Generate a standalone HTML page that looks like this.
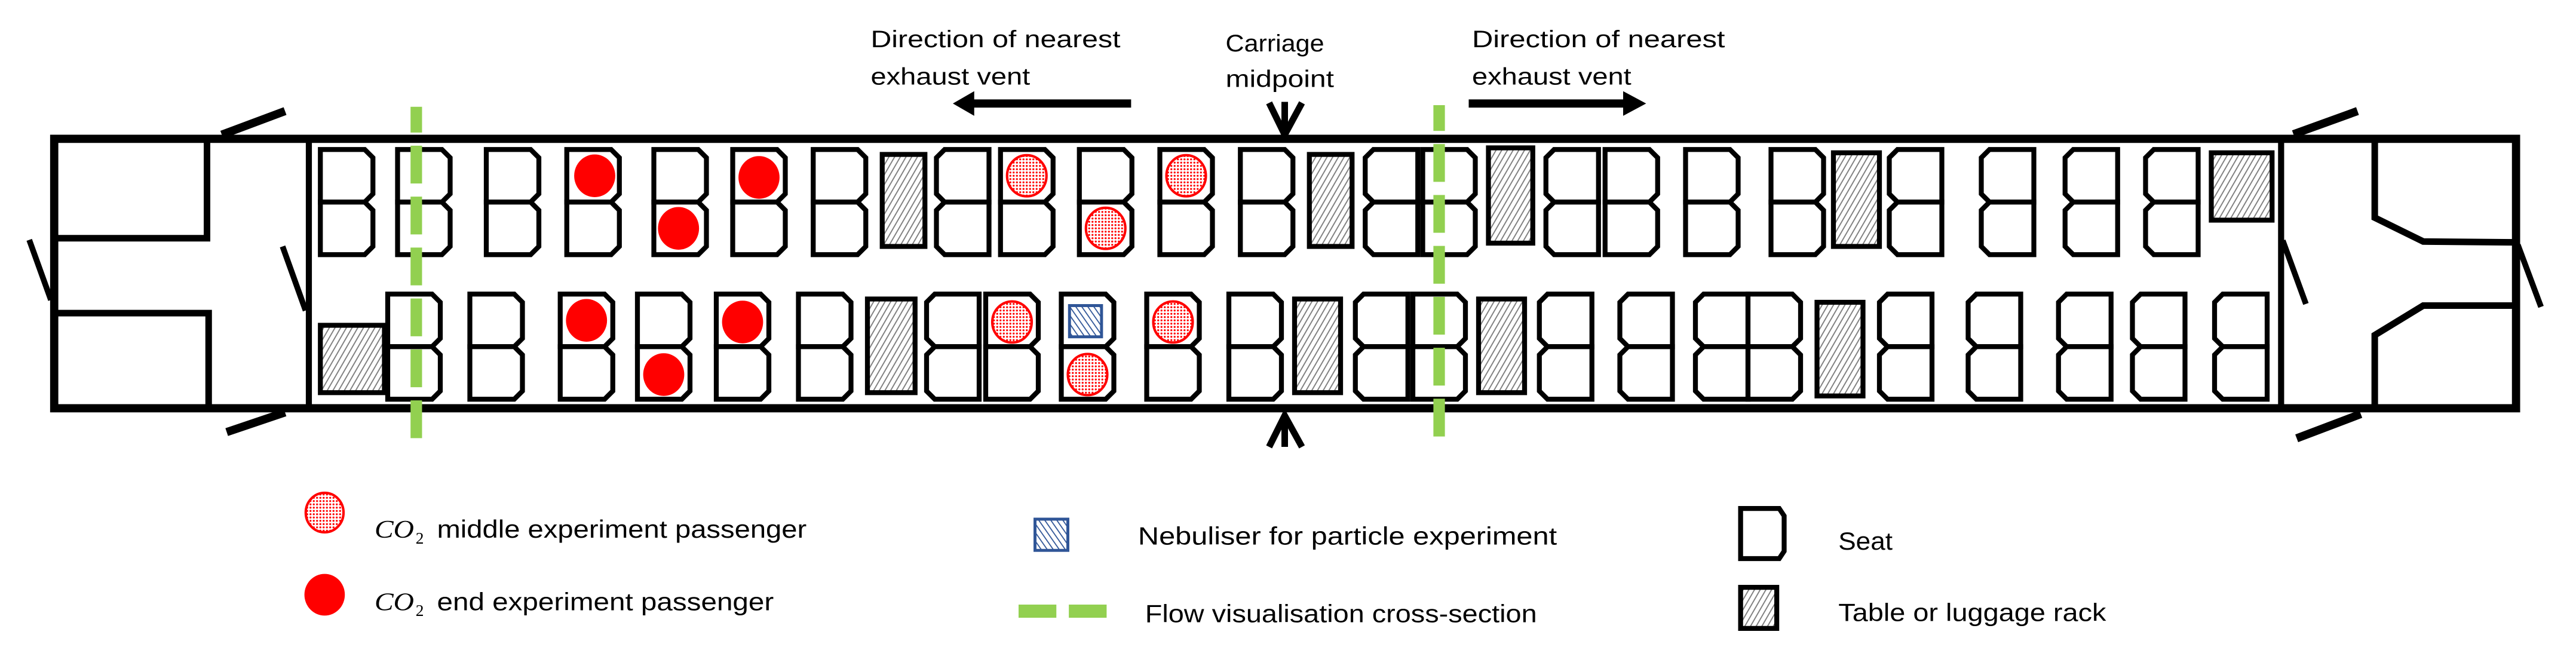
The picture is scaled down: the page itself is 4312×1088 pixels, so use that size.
<!DOCTYPE html>
<html><head><meta charset="utf-8"><style>html,body{margin:0;padding:0;background:#fff}svg{display:block}</style></head>
<body>
<svg width="4312" height="1088" viewBox="0 0 1568 395.64" preserveAspectRatio="none" xmlns="http://www.w3.org/2000/svg">
<defs>
<pattern id="hatch" patternUnits="userSpaceOnUse" width="3" height="3" patternTransform="rotate(30)">
<rect width="3" height="3" fill="#fff"/><line x1="0" y1="0" x2="0" y2="3" stroke="#7f7f7f" stroke-width="1.4"/></pattern>
<pattern id="bhatch" patternUnits="userSpaceOnUse" width="3" height="3" patternTransform="rotate(-35)">
<rect width="3" height="3" fill="#fff"/><line x1="0" y1="0" x2="0" y2="3" stroke="#2f5597" stroke-width="1.3"/></pattern>
<pattern id="dots" patternUnits="userSpaceOnUse" width="2" height="2">
<rect width="2" height="2" fill="#fff"/><circle cx="1" cy="1" r="0.6" fill="#f00"/></pattern>
<g id="B" fill="#fff" stroke="#000" stroke-width="3">
<path d="M0,0H27L32,5V27L27,32H0Z"/><path d="M0,32H27L32,37V59L27,64H0Z"/></g>
<g id="R" fill="#fff" stroke="#000" stroke-width="3">
<path d="M32,0H5L0,5V27L5,32H32Z"/><path d="M32,32H5L0,37V59L5,64H32Z"/></g>
</defs>

<!-- carriage outline -->
<g stroke="#000" fill="none" stroke-linecap="butt">
<rect x="33" y="84.5" width="1498.5" height="164" stroke-width="5"/>
<line x1="188" y1="84" x2="188" y2="249" stroke-width="3.7"/>
<line x1="1388.5" y1="84" x2="1388.5" y2="249" stroke-width="3.7"/>
<!-- left compartments -->
<polyline points="33,145 126,145 126,84" stroke-width="4"/>
<polyline points="33,190.6 127,190.6 127,249" stroke-width="4"/>
<!-- right compartments -->
<polyline points="1445.5,84 1445.5,132.5 1475,147 1531,147.5" stroke-width="4"/>
<polyline points="1531,186 1475,186 1445.5,204 1445.5,249" stroke-width="4"/>
<!-- doors -->
<line x1="135" y1="82" x2="173.5" y2="67.6" stroke-width="5"/>
<line x1="138" y1="263" x2="173.5" y2="251" stroke-width="5"/>
<line x1="17.8" y1="146" x2="31" y2="182.6" stroke-width="3.5"/>
<line x1="172" y1="150" x2="186" y2="189" stroke-width="3.5"/>
<line x1="1396" y1="81.7" x2="1435" y2="67.6" stroke-width="5"/>
<line x1="1398" y1="266.8" x2="1437" y2="252" stroke-width="5"/>
<line x1="1389.5" y1="146.4" x2="1403.6" y2="185" stroke-width="3.5"/>
<line x1="1532.6" y1="149" x2="1546.7" y2="186.8" stroke-width="3.5"/>
</g>

<!-- top row seats -->
<g>
<use href="#B" x="195" y="91"/><use href="#B" x="242" y="91"/><use href="#B" x="296" y="91"/>
<use href="#B" x="345" y="91"/><use href="#B" x="398" y="91"/><use href="#B" x="446" y="91"/>
<use href="#B" x="495" y="91"/><use href="#R" x="570" y="91"/><use href="#B" x="609" y="91"/>
<use href="#B" x="657" y="91"/><use href="#B" x="706" y="91"/><use href="#B" x="755" y="91"/>
<use href="#R" x="831" y="91"/><use href="#B" x="866" y="91"/><use href="#R" x="941" y="91"/>
<use href="#B" x="977" y="91"/><use href="#B" x="1026" y="91"/><use href="#B" x="1078" y="91"/>
<use href="#R" x="1150" y="91"/><use href="#R" x="1206" y="91"/><use href="#R" x="1257" y="91"/>
<use href="#R" x="1306" y="91"/>
</g>
<!-- bottom row seats -->
<g>
<use href="#B" x="236" y="179"/><use href="#B" x="286" y="179"/><use href="#B" x="341" y="179"/>
<use href="#B" x="388" y="179"/><use href="#B" x="436" y="179"/><use href="#B" x="486" y="179"/>
<use href="#R" x="564" y="179"/><use href="#B" x="600" y="179"/><use href="#B" x="646" y="179"/>
<use href="#B" x="698" y="179"/><use href="#B" x="748" y="179"/><use href="#R" x="825" y="179"/>
<use href="#B" x="860" y="179"/><use href="#R" x="937" y="179"/><use href="#R" x="986" y="179"/>
<use href="#R" x="1032" y="179"/><use href="#B" x="1064" y="179"/><use href="#R" x="1144" y="179"/>
<use href="#R" x="1198" y="179"/><use href="#R" x="1253" y="179"/><use href="#R" x="1298" y="179"/>
<use href="#R" x="1348" y="179"/>
</g>
<!-- tables -->
<g fill="url(#hatch)" stroke="#000" stroke-width="3">
<rect x="537" y="94" width="26" height="56"/><rect x="797" y="94" width="26" height="56"/>
<rect x="906" y="90" width="27" height="58"/><rect x="1116" y="93" width="28" height="57"/>
<rect x="1346" y="93" width="37" height="41"/>
<rect x="195" y="198" width="39" height="41"/><rect x="528" y="182" width="29" height="57"/>
<rect x="788" y="182" width="28" height="57"/><rect x="900" y="182" width="28" height="57"/>
<rect x="1106" y="184" width="28" height="57"/>
</g>
<!-- passengers -->
<g fill="#f00">
<ellipse cx="362" cy="107" rx="12.5" ry="13"/><ellipse cx="413" cy="139" rx="12.5" ry="13"/>
<ellipse cx="462" cy="108" rx="12.5" ry="13"/>
<ellipse cx="357" cy="195" rx="12.5" ry="13"/><ellipse cx="404" cy="228" rx="12.5" ry="13"/>
<ellipse cx="452" cy="196" rx="12.5" ry="13"/>
</g>
<g fill="url(#dots)" stroke="#f00" stroke-width="1.5">
<ellipse cx="625" cy="107" rx="12" ry="12.5"/><ellipse cx="673" cy="139" rx="12" ry="12.5"/>
<ellipse cx="722" cy="107" rx="12" ry="12.5"/>
<ellipse cx="616" cy="196" rx="12" ry="12.5"/><ellipse cx="662" cy="228" rx="12" ry="12.5"/>
<ellipse cx="714" cy="196" rx="12" ry="12.5"/>
</g>
<rect x="651" y="186" width="19.5" height="19" fill="url(#bhatch)" stroke="#2f5597" stroke-width="1.8"/>

<!-- green cross-sections -->
<g stroke="#92d050" stroke-width="7" stroke-dasharray="23 8" stroke-dashoffset="7.3">
<line x1="253.4" y1="65" x2="253.4" y2="267"/>
<line x1="876" y1="64" x2="876" y2="266"/>
</g>

<!-- arrows -->
<g fill="#000" stroke="none">
<rect x="592" y="60.5" width="96.5" height="5"/>
<polygon points="580,63 593,55.5 593,70.5"/>
<rect x="894" y="60.5" width="95" height="5"/>
<polygon points="1002,63 988,55.5 988,70.5"/>
</g>
<g stroke="#000" stroke-width="4" fill="none" stroke-linejoin="miter">
<line x1="782" y1="62" x2="782" y2="80"/>
<polyline points="772.5,62.6 782,82 792.5,62.6"/>
<line x1="782" y1="254" x2="782" y2="272"/>
<polyline points="772.5,272 782,253 792.5,272"/>
</g>

<!-- headings -->
<g font-family="Liberation Sans, sans-serif" font-size="14.5" fill="#000">
<text x="530" y="28.7" textLength="152" lengthAdjust="spacingAndGlyphs">Direction of nearest</text>
<text x="530" y="51.4" textLength="97" lengthAdjust="spacingAndGlyphs">exhaust vent</text>
<text x="896" y="28.7" textLength="154" lengthAdjust="spacingAndGlyphs">Direction of nearest</text>
<text x="896" y="51.4" textLength="97" lengthAdjust="spacingAndGlyphs">exhaust vent</text>
<text x="746" y="31.3" textLength="60" lengthAdjust="spacingAndGlyphs">Carriage</text>
<text x="746" y="53" textLength="66" lengthAdjust="spacingAndGlyphs">midpoint</text>
</g>

<!-- legend -->
<ellipse cx="197.6" cy="312" rx="11.5" ry="12" fill="url(#dots)" stroke="#f00" stroke-width="1.5"/>
<ellipse cx="197.6" cy="362" rx="12.3" ry="12.7" fill="#f00"/>
<rect x="630" y="316" width="20" height="19" fill="url(#bhatch)" stroke="#2f5597" stroke-width="1.8"/>
<rect x="620" y="368" width="23" height="8" fill="#92d050"/>
<rect x="650.6" y="368" width="23" height="8" fill="#92d050"/>
<path d="M1059.5,309.5H1083L1086,314V335.5L1083,340H1059.5Z" fill="#fff" stroke="#000" stroke-width="3"/>
<rect x="1059.5" y="357.5" width="22" height="25" fill="url(#hatch)" stroke="#000" stroke-width="3"/>
<g font-family="Liberation Serif, serif" font-style="italic" font-size="15.5" fill="#000">
<text x="228" y="327.3" textLength="24" lengthAdjust="spacingAndGlyphs">CO</text>
<text x="228" y="371.5" textLength="24" lengthAdjust="spacingAndGlyphs">CO</text>
</g>
<g font-family="Liberation Serif, serif" font-size="10" fill="#000">
<text x="253" y="331">2</text>
<text x="253" y="375">2</text>
</g>
<g font-family="Liberation Sans, sans-serif" font-size="15" fill="#000">
<text x="266" y="327.3" textLength="225" lengthAdjust="spacingAndGlyphs">middle experiment passenger</text>
<text x="266" y="371.5" textLength="205" lengthAdjust="spacingAndGlyphs">end experiment passenger</text>
<text x="692.7" y="331.5" textLength="255" lengthAdjust="spacingAndGlyphs">Nebuliser for particle experiment</text>
<text x="697" y="378.8" textLength="238.5" lengthAdjust="spacingAndGlyphs">Flow visualisation cross-section</text>
<text x="1119" y="334.5" textLength="33" lengthAdjust="spacingAndGlyphs">Seat</text>
<text x="1119" y="378" textLength="163" lengthAdjust="spacingAndGlyphs">Table or luggage rack</text>
</g>
</svg>
</body></html>
